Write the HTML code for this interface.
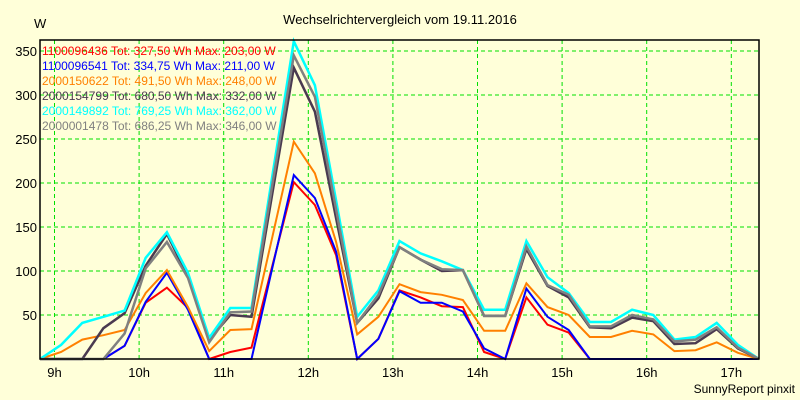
<!DOCTYPE html>
<html><head><meta charset="utf-8"><style>
body{margin:0;background:#ffffd9;}
svg{display:block;font-family:"Liberation Sans",sans-serif;}
</style></head><body>
<svg id="chart" width="800" height="400" xmlns="http://www.w3.org/2000/svg">
<rect x="0" y="0" width="800" height="400" fill="#ffffd9"/>
<text x="400" y="24" text-anchor="middle" font-size="13" fill="#000">Wechselrichtervergleich vom 19.11.2016</text>
<text x="34" y="28" font-size="13" fill="#000">W</text>
<text x="795" y="393" text-anchor="end" font-size="12" fill="#000">SunnyReport pinxit</text>
<g id="grid"></g><g id="ylabels"></g><g id="xlabels"></g><g id="series"></g><g id="legend"></g>
<rect x="40" y="40" width="719" height="319" fill="none" stroke="#000" stroke-width="1.5"/>
</svg>
<script>
const yTicks=[50,100,150,200,250,300,350];
const xTicks=["9h","10h","11h","12h","13h","14h","15h","16h","17h"];
const legendNames=["1100096436 Tot: 327,50 Wh Max: 203,00 W","1100096541 Tot: 334,75 Wh Max: 211,00 W","2000150622 Tot: 491,50 Wh Max: 248,00 W","2000154799 Tot: 680,50 Wh Max: 332,00 W","2000149892 Tot: 769,25 Wh Max: 362,00 W","2000001478 Tot: 686,25 Wh Max: 346,00 W"];
const colors=["#ff0000","#0000ff","#ff8000","#4a3a50","#00ffff","#808080"];
const red=[0,0,0,0,15,64,81,58,0,8,13,107,201,175,118,0,23,78,70,60,59,8,0,70,39,30,0,0,0,0,0,0,0,0,0];
const blue=[0,0,0,0,15,65,98,56,0,0,0,105,209,183,122,0,23,77,64,64,54,12,0,80,48,33,0,0,0,0,0,0,0,0,0];
const orange=[0,8,22,27,33,75,101,59,9,33,34,140,247,211,133,28,48,85,76,73,67,32,32,86,59,50,25,25,32,28,9,10,19,7,0];
const dark=[0,0,0,35,52,106,142,94,22,50,48,190,331,281,160,41,69,127,113,100,101,49,49,125,83,70,36,35,47,43,17,18,34,12,0];
const cyan=[0,16,41,48,55,115,144,98,24,58,58,210,361,311,180,48,78,134,120,111,101,56,56,134,93,75,42,42,56,50,22,25,41,16,0];
const gray=[0,0,0,0,29,103,133,92,19,53,54,200,345,298,170,41,73,127,113,102,101,49,49,128,84,73,37,37,50,45,20,22,36,13,0];
const NS="http://www.w3.org/2000/svg";
const L=40,R=759,T=40,B=359;
const yScale=v=>B-v*0.88;
const xIdx=i=>L+i*(R-L)/34;
const xHour=k=>54.5+k*84.6;
function mk(tag,attrs,parent){const e=document.createElementNS(NS,tag);for(const k in attrs)e.setAttribute(k,attrs[k]);parent.appendChild(e);return e;}
const grid=document.getElementById('grid'),yl=document.getElementById('ylabels'),xl=document.getElementById('xlabels'),sg=document.getElementById('series'),lg=document.getElementById('legend');
yTicks.forEach(v=>{
 const l=mk('line',{x1:L,x2:R,y1:yScale(v),y2:yScale(v),stroke:'#00e000','stroke-dasharray':'4,3','stroke-width':1},grid);
 
 
 const t=mk('text',{x:37,y:yScale(v)+5,'text-anchor':'end','font-size':13,fill:'#000'},yl);
 t.textContent=v;
 
 
});
xTicks.forEach((s,k)=>{
 const l=mk('line',{x1:xHour(k),x2:xHour(k),y1:T,y2:B,stroke:'#00e000','stroke-dasharray':'4,3','stroke-width':1},grid);
 
 
 const t=mk('text',{x:xHour(k),y:377,'text-anchor':'middle','font-size':13,fill:'#000'},xl);
 t.textContent=s;
 
 
});
const all=[red,blue,orange,dark,cyan,gray];
const names=['series-1100096436','series-1100096541','series-2000150622','series-2000154799','series-2000149892','series-2000001478'];
all.forEach((arr,s)=>{
 const pts=arr.map((v,i)=>xIdx(i).toFixed(1)+','+yScale(v).toFixed(1)).join(' ');
 const p=mk('polyline',{points:pts,fill:'none',stroke:colors[s],'stroke-width':(s>=3?2.5:2),'stroke-linejoin':'miter'},sg);
 
 
});
legendNames.forEach((n,s)=>{
 const t=mk('text',{x:42,y:55+s*15,'font-size':12,fill:colors[s]},lg);
 t.textContent=n;
 
 
});
</script>
</body></html>
